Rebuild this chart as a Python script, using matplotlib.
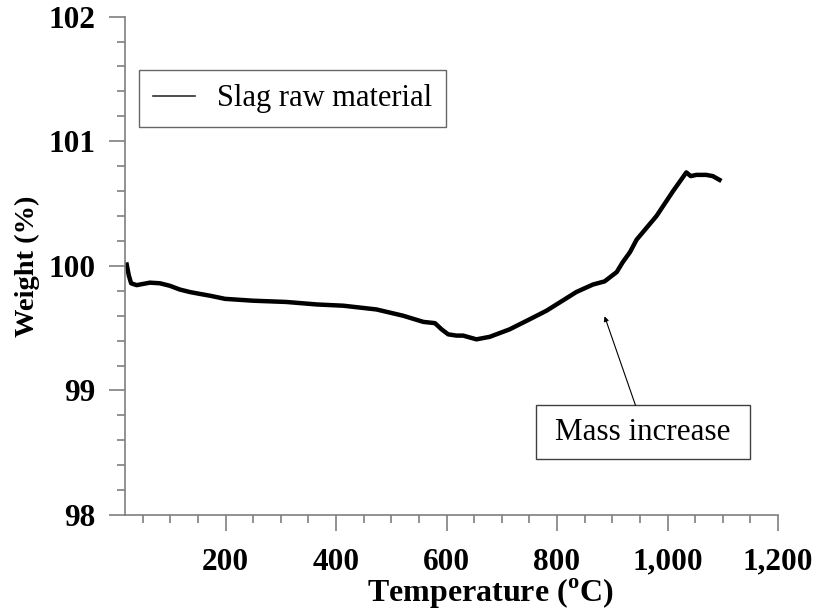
import matplotlib
matplotlib.use('Agg')
from matplotlib import pyplot as plt
from matplotlib.patches import Rectangle
from matplotlib.ticker import MultipleLocator

plt.rcParams['font.family'] = 'Liberation Serif'
plt.rcParams['mathtext.fontset'] = 'custom'
plt.rcParams['mathtext.rm'] = 'Liberation Serif:bold'
plt.rcParams['mathtext.bf'] = 'Liberation Serif:bold'

# TGA trace of the slag raw material
temperature = [21, 25, 29, 39, 63, 81, 99, 117, 135, 153, 172, 199, 250, 310,
               365, 413, 473, 521, 558, 579, 591, 603, 618, 630, 654, 678,
               714, 750, 781, 835, 865, 886, 908, 919, 932, 944, 980, 1010,
               1034, 1042, 1052, 1070, 1082, 1094]
weight = [100.01, 99.92, 99.86, 99.845, 99.865, 99.86, 99.84, 99.81, 99.79,
          99.775, 99.76, 99.735, 99.72, 99.71, 99.69, 99.68, 99.65, 99.60,
          99.55, 99.54, 99.49, 99.45, 99.44, 99.44, 99.41, 99.43, 99.49,
          99.57, 99.64, 99.79, 99.85, 99.875, 99.95, 100.03, 100.11, 100.21,
          100.40, 100.60, 100.75, 100.72, 100.73, 100.73, 100.72, 100.69]

x_ticks = [200, 400, 600, 800, 1000, 1200]
x_labels = ['200', '400', '600', '800', '1,000', '1,200']
y_ticks = [98, 99, 100, 101, 102]

axis_grey = '#7f7f7f'

fig = plt.figure(figsize=(8.13, 6.15), dpi=100)
ax = fig.add_axes([0.1538, 0.1626, 0.8032, 0.8103])

ax.plot(temperature, weight, color='black', lw=3.2, label='Slag raw material')

ax.set_xlim(18, 1200)
ax.set_ylim(98, 102)
ax.set_xticks(x_ticks)
ax.set_xticklabels(x_labels)
ax.set_yticks(y_ticks)
ax.xaxis.set_minor_locator(MultipleLocator(50))
ax.yaxis.set_minor_locator(MultipleLocator(0.2))

for side in ['top', 'right']:
    ax.spines[side].set_visible(False)
for side in ['left', 'bottom']:
    ax.spines[side].set_color(axis_grey)
    ax.spines[side].set_linewidth(1.2)

ax.tick_params(which='major', length=11.5, width=1.2, color=axis_grey,
               labelsize=22.5)
ax.tick_params(which='minor', length=5.8, width=1.2, color=axis_grey)
ax.tick_params(axis='x', which='major', pad=12)
ax.tick_params(axis='y', which='major', pad=10)
for lbl in ax.get_xticklabels() + ax.get_yticklabels():
    lbl.set_fontweight('bold')

ax.set_xlabel(r'Temperature ($^{\mathrm{o}}$C)', fontsize=23,
              fontweight='bold')
ax.xaxis.set_label_coords(0.559, -0.124)
ax.set_ylabel('Weight (%)', fontsize=20.5, fontweight='bold', labelpad=6)

leg = ax.legend(loc='upper left', bbox_to_anchor=(0.021, 0.892),
                fontsize=22, fancybox=False, edgecolor='#404040',
                handlelength=1.4, handletextpad=0.7, borderpad=0.45,
                borderaxespad=0)
leg.get_frame().set_linewidth(1.0)
for h in leg.legend_handles:
    h.set_linewidth(1.2)
    h.set_color('#303030')

# callout box with an arrow pointing at the weight gain
ax.add_patch(Rectangle((761, 98.446), 388, 0.434, fc='white', ec='#404040',
                       lw=1.0, zorder=3))
ax.text(955, 98.66, 'Mass increase', fontsize=22.4, ha='center',
        va='center', zorder=4)
ax.annotate('', xy=(886, 99.595), xytext=(942, 98.88),
            arrowprops=dict(arrowstyle='-|>', color='black', lw=0.8,
                            mutation_scale=7, shrinkA=0, shrinkB=0))

fig.savefig('out.png', dpi=100)
